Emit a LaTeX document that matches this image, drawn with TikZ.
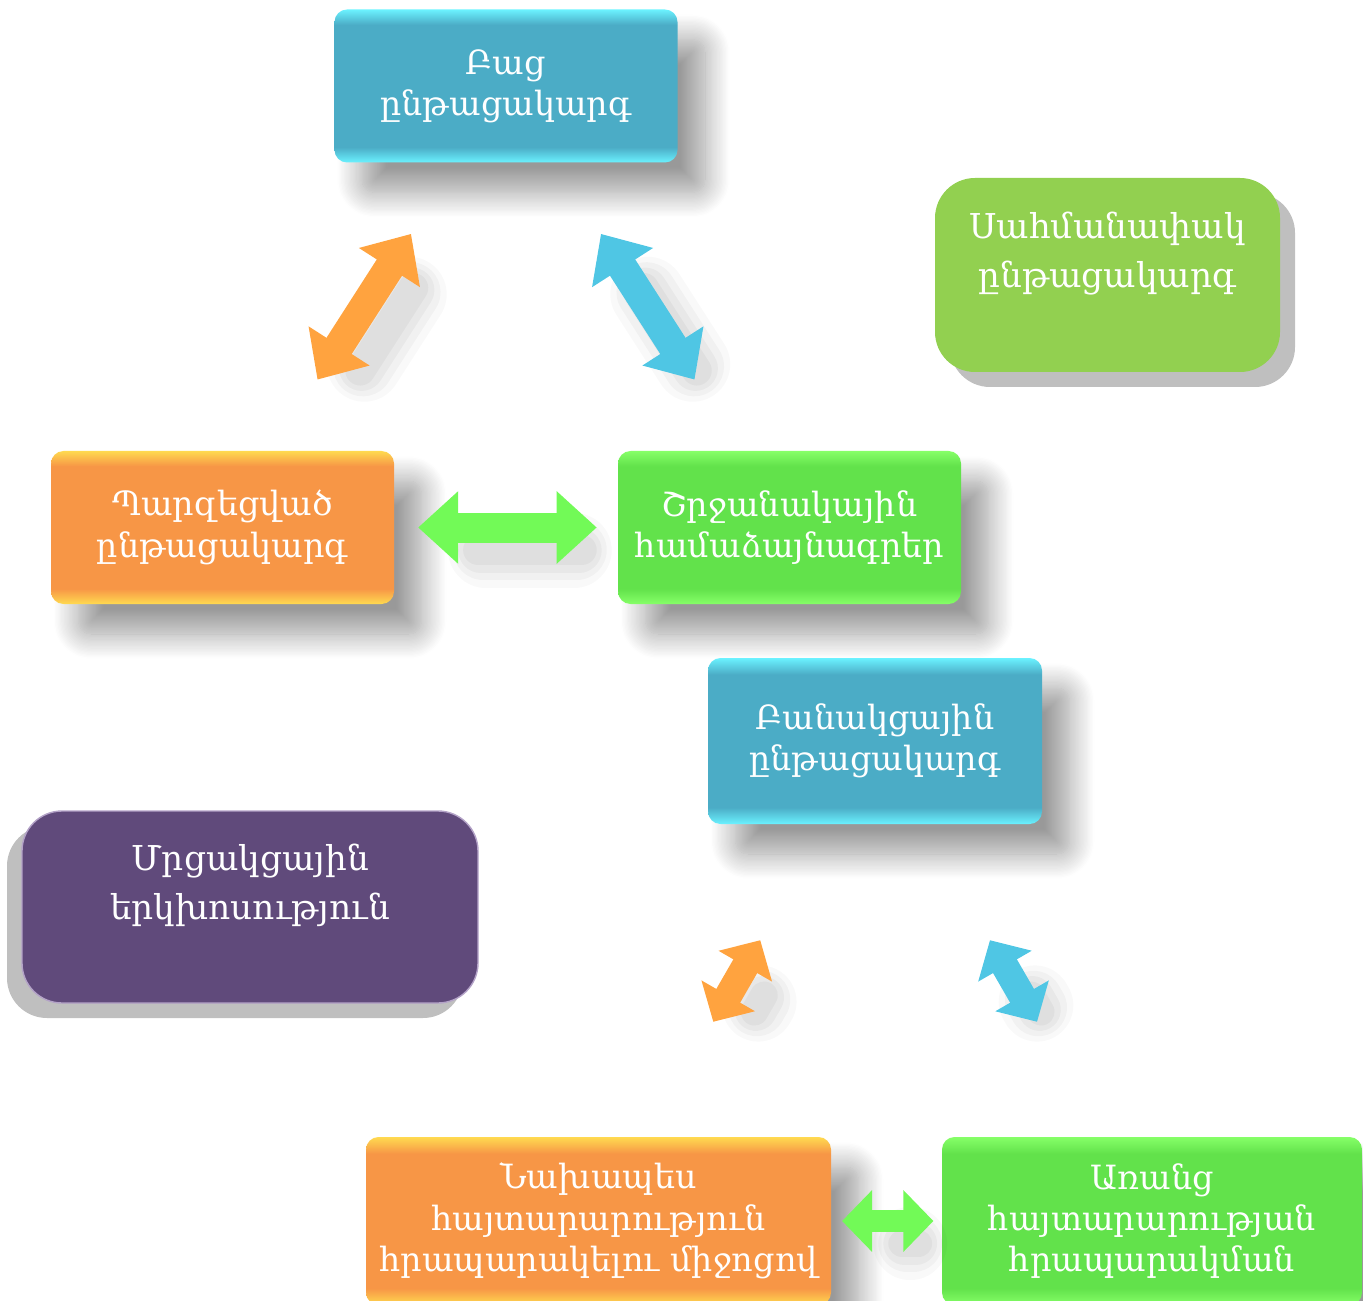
\documentclass[tikz,border=0pt]{standalone}
\usepackage{fontspec}
\setmainfont{DejaVu Serif}
\usetikzlibrary{arrows.meta,calc,shadows,shadows.blur}

\definecolor{bluebase}{HTML}{4BACC6}
\definecolor{bluelt}{HTML}{6BF2FF}
\definecolor{orbase}{HTML}{F79646}
\definecolor{orlt}{HTML}{FFDA50}
\definecolor{grbase}{HTML}{62E24B}
\definecolor{grlt}{HTML}{86FF68}
\definecolor{flatgreen}{HTML}{92D050}
\definecolor{purp}{HTML}{604A7B}
\definecolor{purpline}{HTML}{B3A2C7}
\definecolor{arrorange}{HTML}{FFA33F}
\definecolor{arrblue}{HTML}{4FC6E4}
\definecolor{arrgreen}{HTML}{72FA57}

\pgfdeclareverticalshading{bluebevel}{100bp}{color(0bp)=(bluelt); color(25bp)=(bluelt); color(30bp)=(bluebase); color(70bp)=(bluebase); color(75bp)=(bluelt); color(100bp)=(bluelt)}
\pgfdeclareverticalshading{orbevel}{100bp}{color(0bp)=(orlt); color(25bp)=(orlt); color(30bp)=(orbase); color(70bp)=(orbase); color(75bp)=(orlt); color(100bp)=(orlt)}
\pgfdeclareverticalshading{grbevel}{100bp}{color(0bp)=(grlt); color(25bp)=(grlt); color(30bp)=(grbase); color(70bp)=(grbase); color(75bp)=(grlt); color(100bp)=(grlt)}

\tikzset{soft shadow/.style={
    blur shadow={shadow xshift=.55cm, shadow yshift=-.6cm, shadow blur radius=.5cm,
                 shadow blur steps=20, shadow opacity=40}},
  link shadow/.style={
    preaction={-, draw=black, opacity=.025, line width=#1+.9cm, shorten <=.9cm, shorten >=.9cm,
               line cap=round, transform canvas={shift={(.45cm,-.45cm)}}},
    preaction={-, draw=black, opacity=.03, line width=#1+.6cm, shorten <=.85cm, shorten >=.85cm,
               line cap=round, transform canvas={shift={(.45cm,-.45cm)}}},
    preaction={-, draw=black, opacity=.035, line width=#1+.3cm, shorten <=.8cm, shorten >=.8cm,
               line cap=round, transform canvas={shift={(.45cm,-.45cm)}}},
    preaction={-, draw=black, opacity=.04, line width=#1, shorten <=.75cm, shorten >=.75cm,
               line cap=round, transform canvas={shift={(.45cm,-.45cm)}}}}}

\begin{document}
\begin{tikzpicture}[font=\fontsize{19}{23.5}\selectfont,
  box/.style={rounded corners=.25cm, align=center, text=white, inner sep=2pt,
              minimum width=6.86cm, minimum height=3.06cm, soft shadow},
  bluebox/.style={box, shading=bluebevel},
  orbox/.style={box, shading=orbevel},
  grbox/.style={box, shading=grbevel},
  flat/.style={rounded corners=.8cm, align=center, text=white,
               font=\fontsize{19.5}{28}\selectfont},
  link/.style={{Triangle[length=.8cm,width=1.4cm]}-{Triangle[length=.8cm,width=1.4cm]},
               line width=.6cm, link shadow=.6cm},
  smalllink/.style={{Triangle[length=.6cm,width=1.2cm]}-{Triangle[length=.6cm,width=1.2cm]},
               line width=.55cm, link shadow=.55cm}]
\useasboundingbox (0,0) rectangle (27.26,-26.02);
% boxes
\node[bluebox] (bag) at (10.12,-1.72) {Բաց\\ընթացակարգ};
\node[flat, fill=flatgreen, minimum width=6.9cm, minimum height=3.88cm,
      general shadow={shadow xshift=.3cm, shadow yshift=-.3cm, fill=black!25}]
      (sahm) at (22.15,-5.5) {Սահմանափակ\\ընթացակարգ\\[-8pt]\strut};
\node[orbox] (parz) at (4.45,-10.55) {Պարզեցված\\ընթացակարգ};
\node[grbox] (shrj) at (15.79,-10.55) {Շրջանակային\\համաձայնագրեր};
\node[bluebox, minimum width=6.68cm, minimum height=3.32cm] (banak) at (17.5,-14.82) {Բանակցային\\ընթացակարգ};
\node[flat, fill=purp, draw=purpline, line width=.8pt, minimum width=9.12cm, minimum height=3.84cm,
      general shadow={shadow xshift=-.3cm, shadow yshift=-.3cm, fill=black!25}]
      (mrc) at (5.0,-18.14) {Մրցակցային\\երկխոսություն\\[-8pt]\strut};
\node[orbox, minimum width=9.3cm, minimum height=3.36cm] (nakh) at (11.97,-24.42)
      {Նախապես\\հայտարարություն\\հրապարակելու միջոցով};
\node[grbox, minimum width=8.4cm, minimum height=3.36cm] (arr) at (23.04,-24.42)
      {Առանց\\հայտարարության\\հրապարակման};
% connectors
\draw[link, arrorange] ($(parz)!.335!(bag)$) -- ($(parz)!.665!(bag)$);
\draw[link, arrblue] ($(bag)!.335!(shrj)$) -- ($(bag)!.665!(shrj)$);
\draw[link, arrgreen] ($(parz)!.345!(shrj)$) -- ($(parz)!.66!(shrj)$);
\draw[smalllink, arrorange] ($(nakh)!.415!(banak)$) -- ($(nakh)!.585!(banak)$);
\draw[smalllink, arrblue] ($(banak)!.415!(arr)$) -- ($(banak)!.585!(arr)$);
\draw[smalllink, arrgreen, line width=.45cm] ($(nakh)!.44!(arr)$) -- ($(nakh)!.605!(arr)$);
\end{tikzpicture}
\end{document}
